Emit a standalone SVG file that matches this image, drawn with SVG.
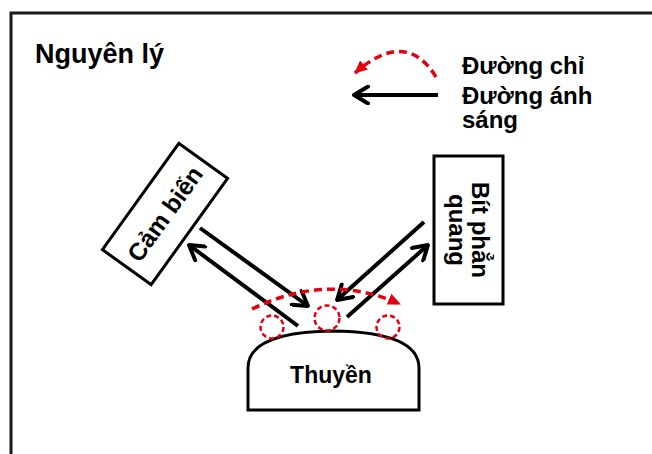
<svg xmlns="http://www.w3.org/2000/svg" width="652" height="454" viewBox="0 0 652 454">
<style>
text{font-family:"Liberation Sans",Arial,sans-serif;font-weight:bold;fill:#000}
.box{fill:#fff;stroke:#000;stroke-width:3}
.ray{fill:none;stroke:#000;stroke-width:4}
.thread{fill:none;stroke:#e3000f;stroke-width:3.5;stroke-dasharray:8 5}
.dot{fill:none;stroke:#e3000f;stroke-width:2.5;stroke-dasharray:5 3}
</style>
<defs>
<marker id="chev" viewBox="0 0 20 20" refX="18" refY="10" markerUnits="userSpaceOnUse" markerWidth="20" markerHeight="20" orient="auto">
<path d="M4,1.5 L18,10 L4,18.5" fill="none" stroke="#000" stroke-width="4" stroke-linecap="round" stroke-linejoin="round"/>
</marker>
<marker id="redhead" viewBox="0 0 14 14" refX="12" refY="7" markerUnits="userSpaceOnUse" markerWidth="14" markerHeight="14" orient="auto">
<path d="M0,1 L13,7 L0,13 Z" fill="#e3000f"/>
</marker>
</defs>
<path d="M11,454 V13 H652" fill="none" stroke="#1a1a1a" stroke-width="3"/>
<text id="title" x="35" y="63" font-size="27">Nguyên lý</text>
<g id="legend">
<path class="thread" d="M436,77 Q406,28 355,73" marker-end="url(#redhead)"/>
<path class="ray" d="M438,95 H354" marker-end="url(#chev)"/>
<text x="462" y="74" font-size="24">Đường chỉ</text>
<text x="462" y="104" font-size="24">Đường ánh</text>
<text x="462" y="128" font-size="24">sáng</text>
</g>
<g id="sensor" transform="translate(165,214) rotate(-54.3)">
<rect class="box" x="-65.5" y="-30" width="131" height="60"/>
<text x="0" y="8.5" font-size="24.5" text-anchor="middle">Cảm biến</text>
</g>
<g id="reflector" transform="translate(468.5,230) rotate(90)">
<rect class="box" x="-74" y="-34.5" width="148" height="69"/>
<text x="0" y="-3" font-size="24" text-anchor="middle">Bít phẳn</text>
<text x="0" y="19.5" font-size="24" text-anchor="middle">quang</text>
</g>
<g id="boat">
<path class="box" d="M248,410 V368 Q248,332 333,331 Q419,332 419,368 V410 Z"/>
<text x="331" y="383" font-size="23" text-anchor="middle">Thuyền</text>
</g>
<g id="connectors">
<path class="ray" d="M200,228 L308,306" marker-end="url(#chev)"/>
<path class="ray" d="M298,326 L189,245" marker-end="url(#chev)"/>
<path class="ray" d="M424,222 L337,300" marker-end="url(#chev)"/>
<path class="ray" d="M347,317 L428,245" marker-end="url(#chev)"/>
<path class="thread" d="M252,309 Q328,272 400,304" marker-end="url(#redhead)"/>
<circle class="dot" cx="272" cy="327" r="11.5"/>
<circle class="dot" cx="327" cy="318" r="12.5"/>
<circle class="dot" cx="388" cy="327" r="11.5"/>
</g>
</svg>
